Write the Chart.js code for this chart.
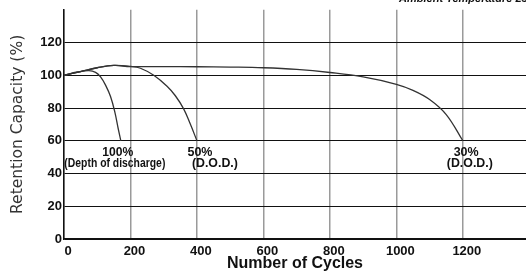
<!DOCTYPE html>
<html>
<head>
<meta charset="utf-8">
<script src="https://cdn.jsdelivr.net/npm/chart.js@4.4.1/dist/chart.umd.min.js"></script>
<style>
  html, body { margin: 0; padding: 0; background: #fff; }
  #wrap { width: 526px; height: 273px; position: relative; }
</style>
</head>
<body>
<div id="wrap"><canvas id="life-chart"></canvas></div>
<script>
// cycle life curves
const cycles100 = [0, 40, 75, 95, 110, 125, 140, 153, 163, 171];
const capacity100 = [100, 102, 102.8, 101.8, 99, 94, 87, 77.5, 67.5, 60];

const cycles50 = [0, 50, 100, 150, 200, 230, 270, 310, 335, 360, 380, 400];
const capacity50 = [100, 102.3, 104.6, 106, 105.4, 104.3, 100, 93.3, 87.5, 79.5, 70.2, 60];

const cycles30 = [0, 50, 100, 150, 200, 300, 400, 500, 600, 700, 800, 900, 1000, 1050, 1100, 1150, 1200];
const capacity30 = [100, 102.3, 104.6, 106, 105.3, 105.3, 105.2, 105, 104.6, 103.6, 101.7, 99, 94.5, 90.8, 85.2, 76, 60];

const xTicks = [0, 200, 400, 600, 800, 1000, 1200];
const yTicks = [0, 20, 40, 60, 80, 100, 120];

const curveLabels = [
    { text: '100%', x: 162, y: 52.8, fit: 31 },
    { text: '(Depth of discharge)', x: 153, y: 46.3, fit: 101 },
    { text: '50%', x: 409, y: 52.8, fit: 25 },
    { text: '(D.O.D.)', x: 454, y: 46.3, fit: 46 },
    { text: '30%', x: 1210, y: 52.8, fit: 25 },
    { text: '(D.O.D.)', x: 1221, y: 46.3, fit: 46 },
];

const pts = (xs, ys) => xs.map((x, i) => ({ x: x, y: ys[i] }));

const curveStyle = {
    borderColor: '#333',
    borderWidth: 1.3,
    pointRadius: 0,
    fill: false,
    tension: 0.4,
};

const labelPlugin = {
    id: 'curveLabels',
    afterDatasetsDraw(chart) {
        const ctx = chart.ctx;
        const xs = chart.scales.x;
        const ys = chart.scales.y;
        ctx.save();
        ctx.fillStyle = '#111';
        ctx.font = 'bold 13px "Liberation Sans", Arial, sans-serif';
        ctx.textAlign = 'center';
        ctx.textBaseline = 'middle';
        curveLabels.forEach(l => {
            ctx.fillText(l.text, xs.getPixelForValue(l.x), ys.getPixelForValue(l.y), l.fit);
        });
        // header cut off at the top edge
        ctx.font = 'bold italic 11px "Liberation Sans", Arial, sans-serif';
        ctx.textAlign = 'right';
        ctx.textBaseline = 'alphabetic';
        ctx.fillText('Ambient Temperature 25°C', 540, 2);
        ctx.restore();
    },
};

const tickFont = { family: '"Liberation Sans", Arial, sans-serif', size: 13, weight: 'bold' };

const ctx = document.getElementById('life-chart').getContext('2d');
const chart = new Chart(ctx, {
    type: 'line',
    data: {
        datasets: [
            Object.assign({ label: '100%', data: pts(cycles100, capacity100) }, curveStyle),
            Object.assign({ label: '50%', data: pts(cycles50, capacity50) }, curveStyle),
            Object.assign({ label: '30%', data: pts(cycles30, capacity30) }, curveStyle),
        ],
    },
    options: {
        responsive: true,
        maintainAspectRatio: false,
        animation: false,
        layout: { padding: { top: 6, right: 0, left: 0, bottom: 0 } },
        plugins: {
            legend: { display: false },
            tooltip: { enabled: false },
        },
        scales: {
            x: {
                type: 'linear',
                min: 0,
                max: 1390,
                afterBuildTicks: s => { s.ticks = xTicks.map(v => ({ value: v })); },
                afterFit: s => { s.height = 34; },
                grid: { color: '#9a9a9a', lineWidth: 1.5, drawTicks: false },
                border: { color: '#111', width: 1.5 },
                ticks: {
                    color: '#111',
                    padding: 5,
                    labelOffset: 4,
                    maxRotation: 0,
                    font: tickFont,
                    callback: v => String(v),
                },
                title: {
                    display: true,
                    text: 'Number of Cycles',
                    color: '#111',
                    padding: { top: 0, bottom: 0 },
                    font: { family: '"Liberation Sans", Arial, sans-serif', size: 16, weight: 'bold' },
                },
            },
            y: {
                min: 0,
                max: 140,
                afterBuildTicks: s => { s.ticks = yTicks.map(v => ({ value: v })); },
                afterFit: s => { s.width = 64; },
                grid: { color: '#111', lineWidth: 1, drawTicks: false },
                border: { color: '#111', width: 1.5 },
                ticks: {
                    color: '#111',
                    padding: 2,
                    font: tickFont,
                    callback: v => String(v),
                },
                title: {
                    display: true,
                    text: 'Retention Capacity (%)',
                    color: '#333',
                    padding: { top: 9, bottom: 0 },
                    font: { family: '"DejaVu Sans", sans-serif', size: 15.5, weight: 'normal' },
                },
            },
        },
    },
    plugins: [labelPlugin],
});
</script>
</body>
</html>
